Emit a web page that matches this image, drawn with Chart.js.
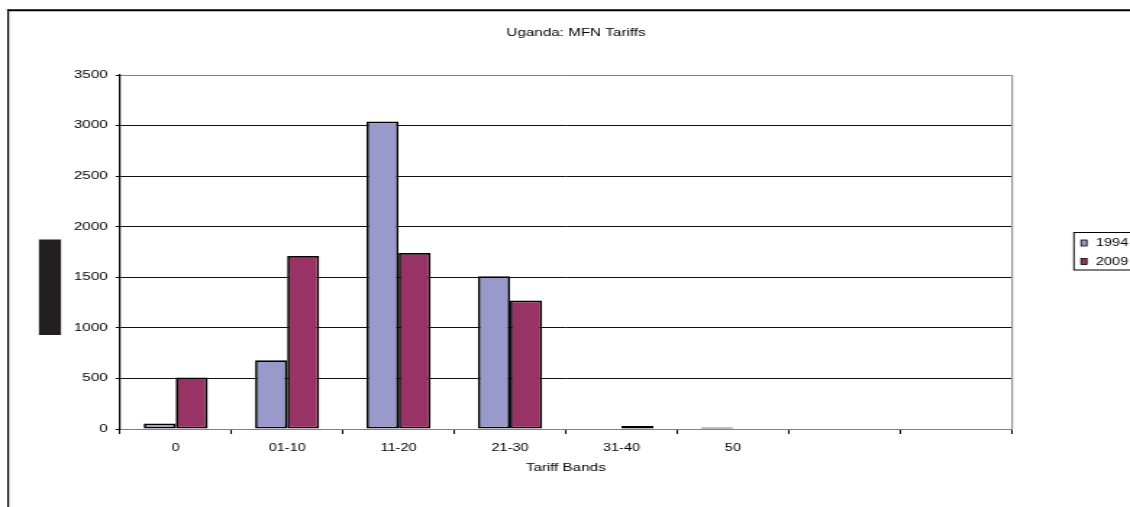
<!DOCTYPE html>
<html><head><meta charset="utf-8">
<script src="https://cdn.jsdelivr.net/npm/chart.js@4.4.1/dist/chart.umd.min.js"></script>
<style>
html,body{margin:0;padding:0;background:#fff;overflow:hidden;width:1130px;height:507px;}
#wrap{position:absolute;left:0;top:0;width:780px;height:507px;transform:scaleX(1.448718);transform-origin:0 0;}
</style></head><body>
<div id="wrap"><canvas id="c"></canvas></div>
<script>
const categories = ['0', '01-10', '11-20', '21-30', '31-40', '50', '', ''];
const series1994 = [55, 680, 3040, 1510, 0, 15, null, null];
const series2009 = [510, 1710, 1740, 1270, 30, 0, null, null];
const seriesNames = ['1994', '2009'];
const yTickValues = [0, 500, 1000, 1500, 2000, 2500, 3000, 3500];
const chartTitle = 'Uganda: MFN Tariffs';
const xAxisTitle = 'Tariff Bands';

const FONT = "'Liberation Sans', Arial, sans-serif";

const decor = {
  id: 'decor',
  beforeDraw(chart) {
    const ctx = chart.ctx;
    ctx.save();
    ctx.fillStyle = '#fff';
    ctx.fillRect(0, 0, chart.width, chart.height);
    ctx.restore();
  },
  afterDraw(chart) {
    const ctx = chart.ctx;
    const a = chart.chartArea;
    ctx.save();
    ctx.strokeStyle = '#000';
    ctx.lineWidth = 2;
    ctx.beginPath(); ctx.moveTo(4.9, 10.2); ctx.lineTo(chart.width + 5, 10.2); ctx.stroke();
    ctx.lineWidth = 1.2;
    ctx.beginPath(); ctx.moveTo(5.6, 9.2); ctx.lineTo(5.6, chart.height + 5); ctx.stroke();
    ctx.strokeStyle = '#808080';
    ctx.lineWidth = 1;
    ctx.beginPath(); ctx.moveTo(a.right + 0.5, a.top); ctx.lineTo(a.right + 0.5, a.bottom); ctx.stroke();
    ctx.fillStyle = '#000';
    ctx.font = '10.5px ' + FONT;
    ctx.textAlign = 'center';
    ctx.textBaseline = 'middle';
    ctx.fillText(chartTitle, 397.6, 33);
    ctx.fillStyle = '#231f20';
    ctx.fillRect(26.9, 239.5, 15.2, 95.5);
    const lx = 741.3, ly = 232.5;
    ctx.strokeStyle = '#000';
    ctx.lineWidth = 1;
    ctx.strokeRect(lx, ly, 200, 37.5);
    ctx.font = '10px ' + FONT;
    ctx.textAlign = 'left';
    ctx.textBaseline = 'middle';
    chart.data.datasets.forEach((ds, i) => {
      const cy = 243 + i * 18.5;
      ctx.fillStyle = ds.backgroundColor;
      ctx.fillRect(746.2, cy - 3, 4, 6);
      ctx.lineWidth = 0.8;
      ctx.strokeStyle = '#000';
      ctx.strokeRect(746.2, cy - 3, 4, 6);
      ctx.fillStyle = '#000';
      ctx.fillText(ds.label, 756.5, cy + 0.5);
    });
    ctx.restore();
  }
};

new Chart(document.getElementById('c'), {
  type: 'bar',
  data: {
    labels: categories,
    datasets: [
      { label: seriesNames[0], data: series1994, backgroundColor: '#9999CC', borderColor: '#000', borderWidth: 1.7, borderSkipped: false, inflateAmount: 0 },
      { label: seriesNames[1], data: series2009, backgroundColor: '#993366', borderColor: '#000', borderWidth: 1.7, borderSkipped: false, inflateAmount: 0 }
    ]
  },
  options: {
    responsive: true,
    maintainAspectRatio: false,
    animation: false,
    layout: { padding: { left: 0, right: 81.8, top: 75, bottom: 0 } },
    datasets: { bar: { categoryPercentage: 0.575, barPercentage: 1 } },
    plugins: { legend: { display: false }, title: { display: false }, tooltip: { enabled: false } },
    scales: {
      x: {
        afterFit(s) { s.height = 78; },
        grid: { offset: true, drawOnChartArea: false, drawTicks: true, tickLength: 5, color: '#000', lineWidth: 1 },
        border: { color: '#808080', width: 1 },
        ticks: { color: '#000', font: { family: FONT, size: 10 }, padding: 8.5, maxRotation: 0, autoSkip: false },
        title: { display: true, text: xAxisTitle, color: '#000', font: { family: FONT, size: 10.5 }, padding: { top: 0, bottom: 33 } }
      },
      y: {
        min: 0, max: 3500,
        afterFit(s) { s.width = 82.83; },
        afterBuildTicks(s) { s.ticks = yTickValues.map(v => ({ value: v })); },
        grid: {
          color: c => (c.tick && (c.tick.value === 3500 || c.tick.value === 0)) ? '#808080' : '#111',
          lineWidth: 1, tickLength: 3, tickColor: '#000'
        },
        border: { color: '#000', width: 1.2 },
        ticks: { color: '#000', font: { family: FONT, size: 10.5 }, padding: 5.5, callback: v => String(v) }
      }
    }
  },
  plugins: [decor]
});
</script>
</body></html>
